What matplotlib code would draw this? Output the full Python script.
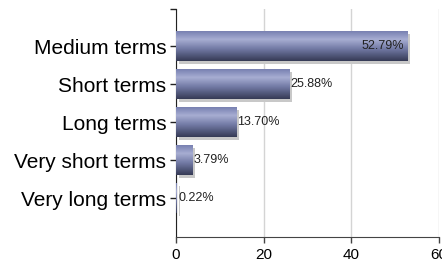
import numpy as np
import matplotlib
matplotlib.use("Agg")
import matplotlib.pyplot as plt
import matplotlib.patheffects as pe
from matplotlib.colors import LinearSegmentedColormap

categories = ["Very long terms", "Very short terms", "Long terms", "Short terms", "Medium terms"]
values = [0.22, 3.79, 13.70, 25.88, 52.79]
labels = ["0.22%", "3.79%", "13.70%", "25.88%", "52.79%"]
xticks = [0, 20, 40, 60]

plt.rcParams['font.family'] = ['Liberation Sans', 'DejaVu Sans']

fig = plt.figure(figsize=(4.42, 2.69), dpi=100)
ax = fig.add_axes([0.398, 0.119, 0.595, 0.848])

# vertical gradient for the bars (top -> bottom)
cmap = LinearSegmentedColormap.from_list(
    "barg", [(0, "#737cae"), (0.3, "#a7add2"), (0.6, "#737ba6"), (1, "#363b56")])
grad = np.linspace(0, 1, 64).reshape(-1, 1)

ypos = np.arange(len(categories))
h = 0.8
bars = ax.barh(ypos, values, height=h, color="#737cae", zorder=3,
               path_effects=[pe.SimplePatchShadow(offset=(2, -2), shadow_rgbFace="#c8c8c8", alpha=1.0),
                             pe.Normal()])
for b in bars:
    x0, y0 = b.get_x(), b.get_y()
    w, hh = b.get_width(), b.get_height()
    im = ax.imshow(grad, cmap=cmap, aspect="auto", extent=(x0, x0 + w, y0, y0 + hh),
                   origin="upper", zorder=4)
    im.set_clip_path(b)

for i, (v, lab) in enumerate(zip(values, labels)):
    if v > 40:
        ax.text(v - 0.7, i, lab, ha="right", va="center", fontsize=9, color="#222222", zorder=5)
    else:
        ax.text(v + 0.3, i, lab, ha="left", va="center", fontsize=9, color="#222222", zorder=5)

ax.set_xlim(0, 60)
ax.set_ylim(-1.02, 4.98)
ax.set_xticks(xticks)
ax.set_xticklabels([str(t) for t in xticks], fontsize=11)
ax.set_yticks(list(ypos) + [4.98])
ax.set_yticklabels(categories + [""], fontsize=15)
ax.xaxis.grid(True, color="#d4d4d4", linewidth=1, zorder=0)
ax.set_axisbelow(True)
for s in ["top", "right"]:
    ax.spines[s].set_visible(False)
ax.spines["left"].set_color("#222222")
ax.spines["bottom"].set_color("#444444")
ax.tick_params(axis="y", length=4, width=1, pad=3, color="#222222")
ax.tick_params(axis="x", length=4, width=1, pad=4, color="#444444")

fig.savefig("out.png", dpi=100)
